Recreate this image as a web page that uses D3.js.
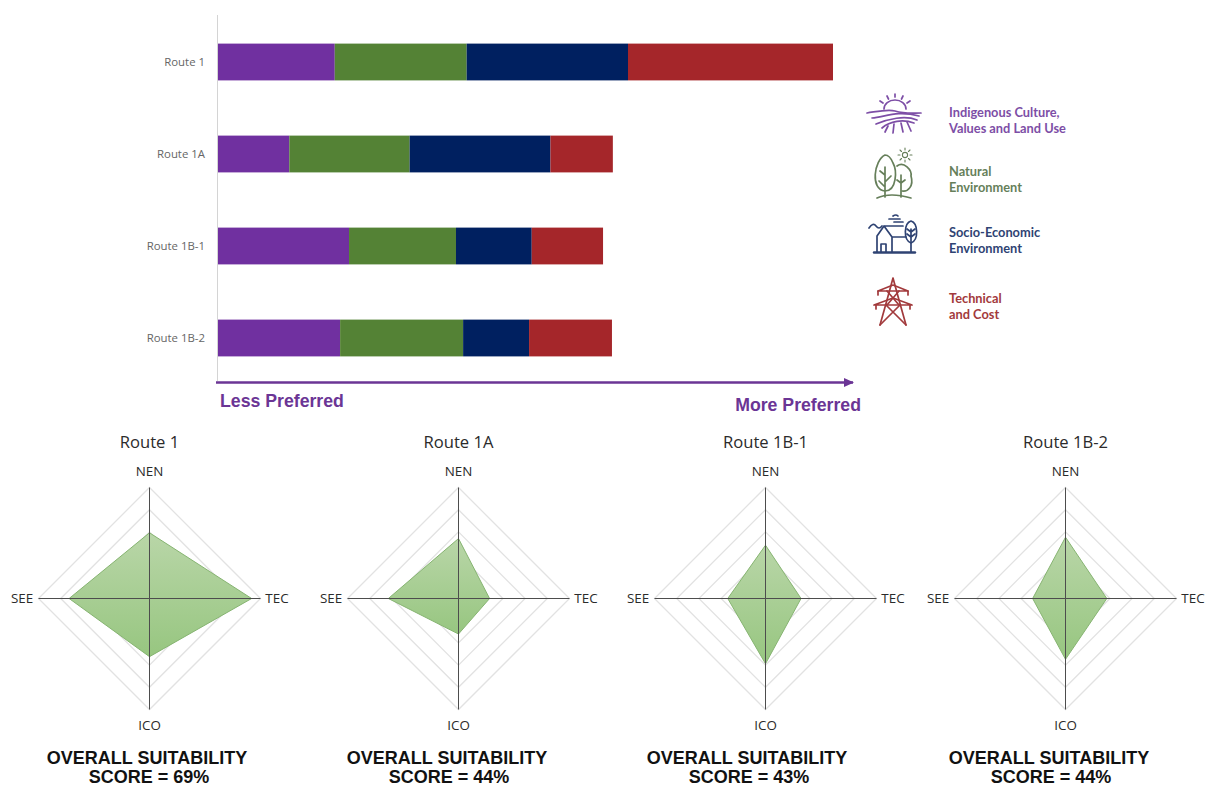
<!DOCTYPE html>
<html>
<head>
<meta charset="utf-8">
<script src="https://cdn.jsdelivr.net/npm/d3@7"></script>
<style>
  html, body { margin: 0; padding: 0; background: #fff; }
  svg { display: block; }
</style>
</head>
<body>
<svg id="chart" width="1206" height="787"></svg>
<script>
// Route comparison: stacked preference bars above one radar per route.
const routes = ["Route 1", "Route 1A", "Route 1B-1", "Route 1B-2"];
const criteria = ["ICO", "NEN", "SEE", "TEC"];
const ico = [13.1, 8.0, 14.7, 13.7];
const nen = [14.8, 13.5, 12.0, 13.8];
const see = [18.1, 15.8, 8.5, 7.4];
const tec = [23.0, 7.0, 8.0, 9.3];
const overallScores = [69, 44, 43, 44];
const criteriaColors = ["#7030a0", "#548235", "#002060", "#a5262a"];
const radarCenters = [149, 458, 765, 1065];
const scoreCenters = [147, 447, 747, 1049];
const ringLevels = [5, 10, 15, 20, 25];
const legendLabels = [
  ["Indigenous Culture,", "Values and Land Use"],
  ["Natural", "Environment"],
  ["Socio-Economic", "Environment"],
  ["Technical", "and Cost"]
];
const legendTextColors = ["#7d4ea6", "#667f5a", "#2f4373", "#a23a3c"];

const series = [ico, nen, see, tec];
const svg = d3.select("#chart");
const FONT = "'Open Sans','Noto Sans',sans-serif";
const defs = svg.append("defs");

// ---- stacked bars ----
const x = d3.scaleLinear().domain([0, 69]).range([218, 833]);
const y = d3.scaleBand().domain(routes).range([16, 384]).paddingInner(0.6).paddingOuter(0.3);

const stackRows = routes.map((r, i) => {
  const row = { route: r };
  criteria.forEach((c, k) => { row[c] = series[k][i]; });
  return row;
});
const layers = d3.stack().keys(criteria)(stackRows);

svg.append("line").attr("x1", 217.5).attr("x2", 217.5).attr("y1", 15).attr("y2", 381)
  .attr("stroke", "#d4d4d4").attr("stroke-width", 1);

svg.append("g").selectAll("g").data(layers).join("g")
  .attr("fill", (d, i) => criteriaColors[i])
  .selectAll("rect").data(d => d).join("rect")
  .attr("x", d => x(d[0]))
  .attr("width", d => x(d[1]) - x(d[0]))
  .attr("y", d => y(d.data.route))
  .attr("height", y.bandwidth());

const yAxis = svg.append("g").attr("transform", "translate(212,0)")
  .call(d3.axisLeft(y).tickSize(0).tickPadding(7));
yAxis.select(".domain").remove();
yAxis.selectAll("text").attr("font-family", FONT).attr("font-size", 11.4).attr("fill", "#666");

// ---- preference arrow ----
defs.append("marker").attr("id", "arrow")
  .attr("viewBox", "0 0 10 10").attr("refX", 9).attr("refY", 5)
  .attr("markerUnits", "userSpaceOnUse").attr("markerWidth", 10).attr("markerHeight", 10)
  .attr("orient", "auto")
  .append("path").attr("d", "M0,0.5L10,5L0,9.5Z").attr("fill", "#6b3595");
svg.append("line").attr("x1", 216).attr("x2", 853).attr("y1", 382.5).attr("y2", 382.5)
  .attr("stroke", "#6b3595").attr("stroke-width", 2.5).attr("marker-end", "url(#arrow)");

const prefStyle = s => s.attr("font-family", "'Liberation Sans',Arial,sans-serif")
  .attr("font-size", 17.7).attr("font-weight", 700).attr("fill", "#6b3595");
svg.append("text").attr("x", 220).attr("y", 406.5).text("Less Preferred").call(prefStyle);
svg.append("text").attr("x", 861).attr("y", 410.5).attr("text-anchor", "end").text("More Preferred").call(prefStyle);

// ---- legend ----
const legendRows = [119, 178, 239, 305];
const legend = svg.append("g");
legendLabels.forEach((lines, i) => {
  const t = legend.append("text").attr("font-family", "Lato,sans-serif").attr("font-size", 12.8)
    .attr("font-weight", 700).attr("fill", legendTextColors[i]);
  lines.forEach((l, k) => t.append("tspan").attr("x", 949).attr("y", legendRows[i] - 2 + k * 16).text(l));
});

const iconLine = (g, d, w) => g.append("path").attr("d", d).attr("fill", "none")
  .attr("stroke", g.attr("stroke")).attr("stroke-width", w || 1.7)
  .attr("stroke-linecap", "round").attr("stroke-linejoin", "round");

// sunrise over ploughed fields
{
  const g = svg.append("g").attr("stroke", legendTextColors[0]);
  iconLine(g, "M884,109A11,9 0 0 1 906,109");
  iconLine(g, "M895,94v3M887,96l1.5,3M903,96l-1.5,3M880,101l3,2M910,101l-3,2");
  iconLine(g, "M867,113C880,111 888,109 895,111C905,114 912,113 921,113");
  iconLine(g, "M872,118C885,117 897,110 919,116");
  iconLine(g, "M876,124C888,119 905,115 917,120");
  iconLine(g, "M882,128C890,121 903,119 914,123");
  iconLine(g, "M888,126l-3,6M894,124l-1,9M901,123l2,9M907,122l4,9");
}
// two trees with a small sun
{
  const g = svg.append("g").attr("stroke", legendTextColors[1]);
  iconLine(g, "M885,155C874,160 870,190 885,191C897,191 897,170 893,163C891,158 888,155 885,155Z");
  iconLine(g, "M885,167V197M885,175l-5,-4M885,182l6,-6M885,187l-6,-6");
  iconLine(g, "M897,166C904,161 912,170 911,176C914,186 908,192 902,191");
  iconLine(g, "M901,175V197M901,183l-4,-3M901,183l4,-3");
  iconLine(g, "M877,198Q890,192 911,198");
  svg.append("circle").attr("cx", 905).attr("cy", 155).attr("r", 2.6).attr("fill", "none")
    .attr("stroke", legendTextColors[1]).attr("stroke-width", 1.1);
  iconLine(g, "M905,148v2M905,160v2M898,155h2M910,155h2M900,150l1.5,1.5M910,150l-1.5,1.5M900,160l1.5,-1.5M910,160l-1.5,-1.5", 1.1);
}
// house and tree
{
  const g = svg.append("g").attr("stroke", legendTextColors[2]);
  iconLine(g, "M874,252.5H915", 2.4);
  iconLine(g, "M877,252V236L884,226L892,237V252M884,226H903M892,237H906");
  iconLine(g, "M881,252V244H886V252");
  iconLine(g, "M911,221C904,223 903,240 911,243C919,240 918,223 911,221Z");
  iconLine(g, "M911,229V252M911,232l-4,-3M911,232l4,-3M911,237l-4,-3M911,237l4,-3");
  iconLine(g, "M869,228Q873,222 876,226T882,226");
  iconLine(g, "M889,219H900M894,222H903M893,216q3,-2 5,0");
}
// transmission tower
{
  const g = svg.append("g").attr("stroke", legendTextColors[3]);
  iconLine(g, "M893,278L887,300L880,325M893,278L899,300L906,325");
  iconLine(g, "M878,291H908M874,305H912M878,291L893,285L908,291M874,305L893,298L912,305");
  iconLine(g, "M887,291L899,305M899,291L887,305M886,305L906,325M900,305L880,325");
  iconLine(g, "M878,291v4M908,291v4M876,305v4M910,305v4");
}

// ---- radar panels ----
const radarCY = 598;
const r = d3.scaleLinear().domain([0, 25]).range([0, 111]);
// Axis order round the chart: NEN (top), TEC (right), ICO (bottom), SEE (left)
const radarAxes = ["NEN", "TEC", "ICO", "SEE"];
const radarSeries = { ICO: ico, NEN: nen, SEE: see, TEC: tec };
const angle = d3.scalePoint().domain(radarAxes.concat("end")).range([0, 2 * Math.PI]);
const radial = d3.lineRadial().angle(d => angle(d.axis)).radius(d => r(d.value)).curve(d3.curveLinearClosed);

// the polygon fill deepens slightly toward its lower edge
const fillGrad = defs.append("linearGradient").attr("id", "radarFill")
  .attr("x1", 0).attr("y1", 0).attr("x2", 0).attr("y2", 1);
fillGrad.append("stop").attr("offset", 0).attr("stop-color", "#b9d6a8");
fillGrad.append("stop").attr("offset", 1).attr("stop-color", "#97c680");

routes.forEach((route, i) => {
  const g = svg.append("g").attr("transform", `translate(${radarCenters[i] + 0.5},${radarCY + 0.5})`);

  ringLevels.forEach(level => {
    g.append("path")
      .attr("d", radial(radarAxes.map(axis => ({ axis, value: level }))))
      .attr("fill", "none").attr("stroke", "#e2e2e2").attr("stroke-width", 1.3);
  });

  const pts = radarAxes.map(axis => ({ axis, value: radarSeries[axis][i] }));
  g.append("path").attr("d", radial(pts))
    .attr("fill", "url(#radarFill)")
    .attr("stroke", "#86b471").attr("stroke-width", 1);

  radarAxes.forEach(axis => {
    const a = angle(axis);
    g.append("line").attr("x1", 0).attr("y1", 0)
      .attr("x2", r(25) * Math.sin(a)).attr("y2", -r(25) * Math.cos(a))
      .attr("stroke", "#4d4d4d").attr("stroke-width", 1);
  });

  radarAxes.forEach(axis => {
    const a = angle(axis);
    g.append("text").attr("x", 127.5 * Math.sin(a)).attr("y", -127 * Math.cos(a))
      .attr("dy", "0.35em").attr("text-anchor", "middle")
      .attr("font-family", FONT).attr("font-size", 13.4).attr("fill", "#2b2b2b").text(axis);
  });

  g.append("text").attr("y", 442 - radarCY).attr("dy", "0.35em").attr("text-anchor", "middle")
    .attr("font-family", FONT).attr("font-size", 16.6).attr("fill", "#2b2b2b").text(route);

  const score = svg.append("text").attr("text-anchor", "middle")
    .attr("font-family", "'Liberation Sans',Arial,sans-serif").attr("font-size", 18)
    .attr("font-weight", 700).attr("fill", "#111");
  score.append("tspan").attr("x", scoreCenters[i]).attr("y", 764).text("OVERALL SUITABILITY");
  score.append("tspan").attr("x", scoreCenters[i] + 2).attr("y", 783).text(`SCORE = ${overallScores[i]}%`);
});
</script>
</body>
</html>
